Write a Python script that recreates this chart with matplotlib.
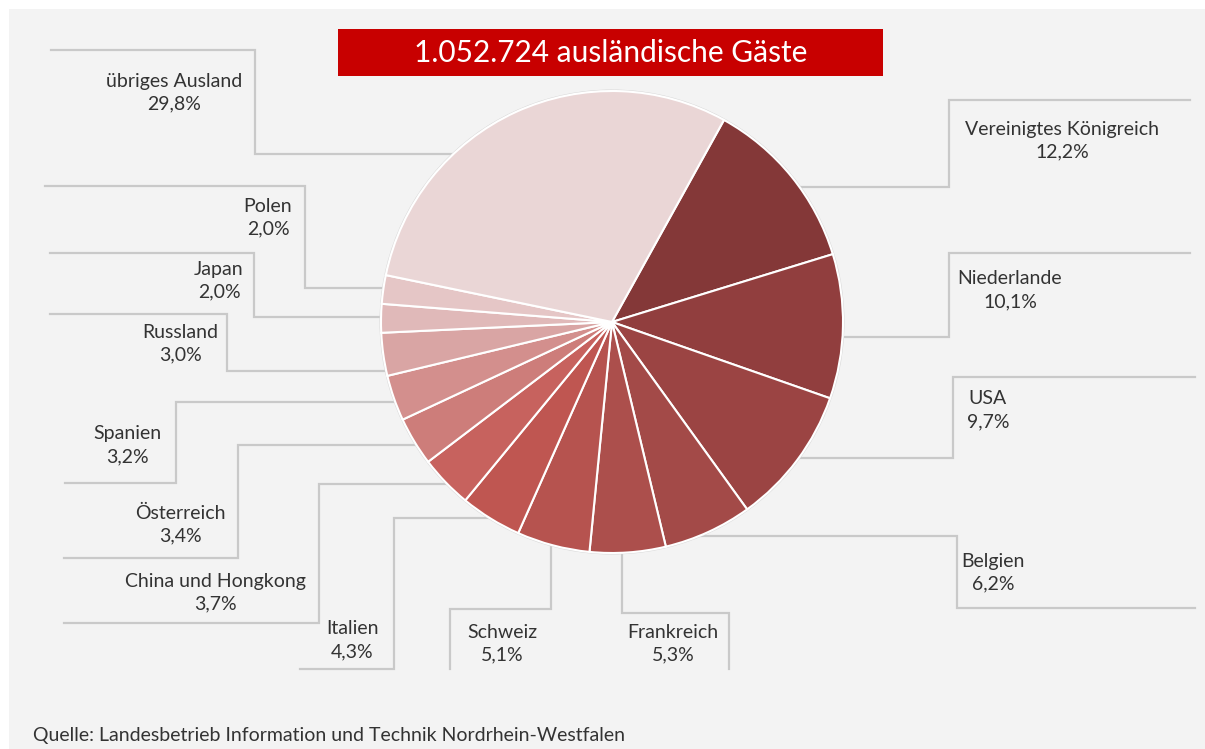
import numpy as np
import matplotlib
matplotlib.use("Agg")
import matplotlib.pyplot as plt
from matplotlib.patches import Rectangle, Circle

# ---------------- data ----------------
countries = ["Vereinigtes Königreich", "Niederlande", "USA", "Belgien", "Frankreich",
             "Schweiz", "Italien", "China und Hongkong", "Österreich", "Spanien",
             "Russland", "Japan", "Polen", "übriges Ausland"]
shares = [12.2, 10.1, 9.7, 6.2, 5.3, 5.1, 4.3, 3.7, 3.4, 3.2, 3.0, 2.0, 2.0, 29.8]
colors = ["#843838", "#913e3e", "#9b4443", "#a34a48", "#ac4f4c", "#b6534f", "#bf5651",
          "#c7625e", "#cd7d7a", "#d38f8d", "#d9a5a4", "#e0b9b9", "#e5c6c6", "#ead6d6"]
title = "1.052.724 ausländische Gäste"
source = "Quelle: Landesbetrieb Information und Technik Nordrhein-Westfalen"

# ---------------- layout (pixel coordinates, y from top) ----------------
W, H = 1205, 749
cx, cy, R = 612, 322, 231
FONT = ["Lato", "DejaVu Sans"]
TXT = "#333333"
LINE = "#c9c9c9"

# label centres (x, y of first line)
label_pos = {
    "Vereinigtes Königreich": (1062, 129),
    "Niederlande": (1010, 279),
    "USA": (988, 399),
    "Belgien": (993, 561),
    "Frankreich": (673, 632),
    "Schweiz": (502, 632),
    "Italien": (352, 629),
    "China und Hongkong": (215, 581),
    "Österreich": (180, 513),
    "Spanien": (127, 434),
    "Russland": (180, 332),
    "Japan": (219, 269),
    "Polen": (268, 206),
    "übriges Ausland": (174, 81),
}
# leader polylines; first point starts at the pie centre (hidden below the pie)
leaders = {
    "Vereinigtes Königreich": [(cx, 187), (949, 187), (949, 100), (1190, 100)],
    "Niederlande": [(cx, 337), (949, 337), (949, 253), (1190, 253)],
    "USA": [(cx, 458), (953, 458), (953, 377), (1195, 377)],
    "Belgien": [(cx, 536), (957, 536), (957, 608), (1195, 608)],
    "Frankreich": [(622, cy), (622, 613), (729, 613), (729, 669)],
    "Schweiz": [(551, cy), (551, 609), (450, 609), (450, 669)],
    "Italien": [(cx, 518), (394, 518), (394, 669), (300, 669)],
    "China und Hongkong": [(cx, 484), (319, 484), (319, 623), (64, 623)],
    "Österreich": [(cx, 445), (238, 445), (238, 558), (64, 558)],
    "Spanien": [(cx, 402), (176, 402), (176, 483), (65, 483)],
    "Russland": [(cx, 371), (227, 371), (227, 314), (50, 314)],
    "Japan": [(cx, 317), (254, 317), (254, 253), (50, 253)],
    "Polen": [(cx, 288), (305, 288), (305, 186), (45, 186)],
    "übriges Ausland": [(cx, 154), (255, 154), (255, 50), (51, 50)],
}

def Y(p):
    return H - p

fig = plt.figure(figsize=(W / 100, H / 100), dpi=100, facecolor="white")
ax = fig.add_axes([0, 0, 1, 1])

# panel
ax.add_patch(Rectangle((9, 0), W - 9, H - 9, facecolor="#f3f3f3", edgecolor="none", zorder=0))

# leaders
for name in countries:
    pts = leaders[name]
    xs = [p[0] for p in pts]
    ys = [Y(p[1]) for p in pts]
    ax.plot(xs, ys, color=LINE, lw=1.6, zorder=1, solid_joinstyle="miter")

# pie
ax.add_patch(Circle((cx, Y(cy)), R + 1.5, facecolor="#d8d8d8", edgecolor="none", zorder=2))
ax.pie(shares, colors=colors, startangle=61, counterclock=False,
       center=(cx, Y(cy)), radius=R, frame=True,
       wedgeprops=dict(edgecolor="white", linewidth=1.5, zorder=3))
ax.set_xlim(0, W)
ax.set_ylim(0, H)
ax.set_aspect("auto")
ax.axis("off")

# labels
for name, v in zip(countries, shares):
    x, y = label_pos[name]
    pct = f"{v:.1f}".replace(".", ",") + "%"
    ax.text(x, Y(y), name, ha="center", va="center", fontsize=14, color=TXT,
            family=FONT, zorder=5)
    ax.text(x, Y(y + 23), pct, ha="center", va="center", fontsize=14, color=TXT,
            family=FONT, zorder=5)

# title box
ax.add_patch(Rectangle((338, Y(76)), 545, 47, facecolor="#c80000", edgecolor="none", zorder=4))
ax.text(611, Y(53), title, ha="center", va="center", fontsize=21.5, color="white",
        family=FONT, zorder=5)

# source
ax.text(33, Y(736), source, ha="left", va="center", fontsize=14, color=TXT, family=FONT)

fig.savefig("out.png", dpi=100, facecolor="white")
